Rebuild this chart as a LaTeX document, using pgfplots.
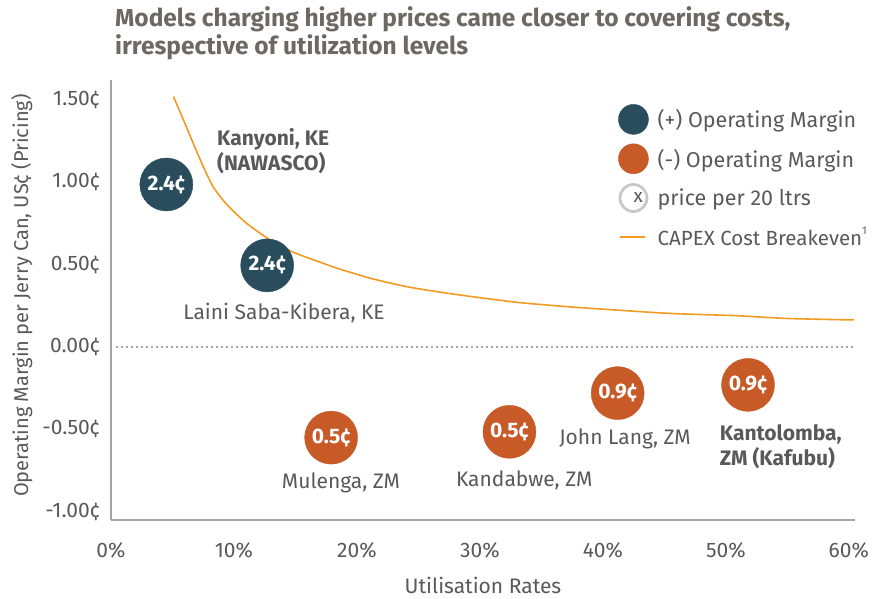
\documentclass[border=0pt]{standalone}
\usepackage{pgfplots}
\pgfplotsset{compat=1.18}
\usepackage{fontspec}
\setmainfont{Fira Sans}
\definecolor{navy}{HTML}{2A4D5E}
\definecolor{rust}{HTML}{C85A28}
\definecolor{curvec}{HTML}{F39A22}
\definecolor{txt}{HTML}{595959}
\definecolor{ttl}{HTML}{6E6862}
\definecolor{axgray}{HTML}{A9A49F}
\definecolor{ring}{HTML}{C8C8C8}
\begin{document}
\begin{tikzpicture}
\useasboundingbox (0,0) rectangle (875pt,598pt);
\begin{axis}[
  at={(111pt,78pt)}, anchor=south west,
  scale only axis, width=744pt, height=440pt,
  xmin=0, xmax=60.5, ymin=-1.05, ymax=1.62,
  clip=false,
  axis x line=bottom, axis y line=left,
  axis line style={axgray, line width=2.5pt, -},
  xtick={0,10,20,30,40,50,60},
  xticklabels={0\%,10\%,20\%,30\%,40\%,50\%,60\%},
  ytick={-1,-0.5,0,0.5,1,1.5},
  yticklabels={-1.00¢,-0.50¢,0.00¢,0.50¢,1.00¢,1.50¢},
  major tick length=0pt,
  tick label style={font=\fontsize{21}{24}\selectfont, text=txt},
  xticklabel style={anchor=center, yshift=-30pt},
  yticklabel style={anchor=east, inner sep=0pt, xshift=-11pt},
  xlabel={Utilisation Rates},
  xlabel style={at={(axis description cs:0.5,-0.148)}, anchor=center, font=\fontsize{21}{24}\selectfont, text=txt},
  ylabel={Operating Margin per Jerry Can, US¢ (Pricing)},
  ylabel style={at={(axis description cs:-0.12,0.51)}, anchor=center, font=\fontsize{20}{24}\selectfont, text=txt},
  title={Models charging higher prices came closer to covering costs,\\irrespective of utilization levels},
  title style={at={(axis description cs:0,1)}, anchor=south west, align=left, xshift=4pt, yshift=14pt, inner sep=0pt, font=\bfseries\fontsize{24.5}{28}\selectfont, text=ttl},
  legend style={draw=none, fill=none, at={(0.6815,0.9455)}, anchor=north west, inner sep=0pt, row sep=9pt, column sep=9pt, font=\fontsize{21.5}{24}\selectfont, text=txt, nodes={inner sep=0pt}},
  legend cell align=left,
]
\addlegendimage{legend image code/.code={\path[draw=none,fill=none] (0,-15pt) rectangle (30pt,15pt); \fill[navy] (15pt,0) circle (15pt);}}
\addlegendentry{(+) Operating Margin}
\addlegendimage{legend image code/.code={\path[draw=none,fill=none] (0,-15pt) rectangle (30pt,15pt); \fill[rust] (15pt,0) circle (15pt);}}
\addlegendentry{(-) Operating Margin}
\addlegendimage{legend image code/.code={\path[draw=none,fill=none] (0,-15pt) rectangle (30pt,15pt); \draw[ring, fill=white, line width=2.8pt] (15pt,0) circle (13.5pt); \node[text=txt, inner sep=0pt, font=\fontsize{19}{20}\selectfont] at (15pt,0) {x};}}
\addlegendentry{price per 20 ltrs}
\addlegendimage{legend image code/.code={\path[draw=none,fill=none] (0,-15pt) rectangle (30pt,15pt); \draw[curvec, line width=1.5pt] (2pt,0) -- (27pt,0);}}
\addlegendentry{{\fontsize{20.5}{24}\selectfont CAPEX Cost Breakeven}\raisebox{0.55em}{\fontsize{11}{12}\selectfont 1}}

\addplot[forget plot, axgray, line width=2pt, dash pattern=on 2pt off 3pt] coordinates {(0.4,0) (60.5,0)};

\addplot[forget plot, curvec, line width=1.6pt, smooth, tension=0.4] coordinates {
(5.07,1.52) (5.88,1.38) (6.69,1.235) (7.50,1.095) (8.32,0.97) (9.41,0.865)
(11.03,0.75) (12.93,0.65) (14.82,0.575) (16.99,0.515) (18.3,0.48) (21.2,0.415)
(24.1,0.365) (27.0,0.33) (29.9,0.30) (33.4,0.268) (37.4,0.243) (41.5,0.222)
(45.6,0.203) (50.8,0.19) (53.1,0.18) (55.4,0.172) (59.6,0.165) (60.4,0.165)
};

\addplot[forget plot, only marks, mark=*, mark size=26.5pt, color=navy,
  point meta=explicit symbolic, nodes near coords,
  every node near coord/.append style={anchor=center, text=white, font=\bfseries\fontsize{21}{24}\selectfont}]
  coordinates {(4.5,0.986) [2.4¢] (12.7,0.495) [2.4¢]};

\addplot[forget plot, only marks, mark=*, mark size=26.5pt, color=rust,
  point meta=explicit symbolic, nodes near coords,
  every node near coord/.append style={anchor=center, text=white, font=\bfseries\fontsize{21}{24}\selectfont}]
  coordinates {(17.9,-0.55) [0.5¢] (32.4,-0.515) [0.5¢] (41.2,-0.28) [0.9¢] (51.8,-0.23) [0.9¢]};

\node[font=\bfseries\fontsize{21}{25}\selectfont, text=txt, anchor=west, align=left, inner sep=0pt] at (axis cs:8.62,1.19) {Kanyoni, KE\\(NAWASCO)};
\node[font=\fontsize{21}{24}\selectfont, text=txt, inner sep=0pt] at (axis cs:14.07,0.206) {Laini Saba-Kibera, KE};
\node[font=\fontsize{21}{24}\selectfont, text=txt, inner sep=0pt] at (axis cs:18.7,-0.825) {Mulenga, ZM};
\node[font=\fontsize{21}{24}\selectfont, text=txt, inner sep=0pt] at (axis cs:33.6,-0.807) {Kandabwe, ZM};
\node[font=\fontsize{21}{24}\selectfont, text=txt, inner sep=0pt] at (axis cs:41.8,-0.558) {John Lang, ZM};
\node[font=\bfseries\fontsize{21}{25}\selectfont, text=txt, anchor=west, align=left, inner sep=0pt] at (axis cs:49.5,-0.607) {Kantolomba,\\ZM (Kafubu)};
\end{axis}
\end{tikzpicture}
\end{document}
